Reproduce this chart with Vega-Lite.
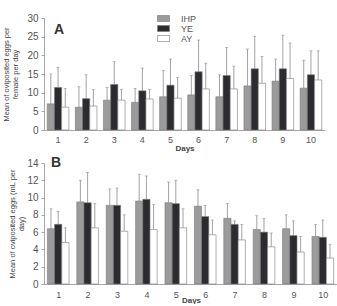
{
  "$schema": "https://vega.github.io/schema/vega-lite/v6.json",
  "padding": {"top": 13, "left": 2, "right": 0, "bottom": 0},
  "spacing": 4,
  "config": {
    "font": "Liberation Sans",
    "view": {"stroke": null},
    "axis": {
      "domainColor": "#a8a8a8", "tickColor": "#a8a8a8", "grid": false,
      "labelColor": "#555", "titleColor": "#444", "labelFont": "Liberation Sans", "titleFont": "Liberation Sans"
    },
    "axisY": {"labelOverlap": false},
    "legend": {"labelFont": "Liberation Sans"},
    "title": {"font": "Liberation Sans", "fontSize": 14, "fontWeight": "bold", "color": "#333", "anchor": "start", "frame": "group"}
  },
  "datasets": {
    "eggsA": [
      {"day": "1", "group": "IHP", "mean": 7.0, "upper": 15.0},
      {"day": "1", "group": "YE", "mean": 11.4, "upper": 16.8},
      {"day": "1", "group": "AY", "mean": 6.1, "upper": 11.1},
      {"day": "2", "group": "IHP", "mean": 6.1, "upper": 11.6},
      {"day": "2", "group": "YE", "mean": 8.4, "upper": 14.8},
      {"day": "2", "group": "AY", "mean": 6.4, "upper": 10.8},
      {"day": "3", "group": "IHP", "mean": 8.0, "upper": 11.4},
      {"day": "3", "group": "YE", "mean": 12.2, "upper": 18.3},
      {"day": "3", "group": "AY", "mean": 8.0, "upper": 10.9},
      {"day": "4", "group": "IHP", "mean": 7.4, "upper": 11.1},
      {"day": "4", "group": "YE", "mean": 10.5, "upper": 16.6},
      {"day": "4", "group": "AY", "mean": 8.3, "upper": 10.9},
      {"day": "5", "group": "IHP", "mean": 8.9, "upper": 15.9},
      {"day": "5", "group": "YE", "mean": 12.0, "upper": 19.0},
      {"day": "5", "group": "AY", "mean": 8.5, "upper": 14.1},
      {"day": "6", "group": "IHP", "mean": 9.4, "upper": 14.6},
      {"day": "6", "group": "YE", "mean": 15.6, "upper": 24.1},
      {"day": "6", "group": "AY", "mean": 11.0, "upper": 17.9},
      {"day": "7", "group": "IHP", "mean": 8.9, "upper": 14.8},
      {"day": "7", "group": "YE", "mean": 14.6, "upper": 22.1},
      {"day": "7", "group": "AY", "mean": 11.0, "upper": 17.1},
      {"day": "8", "group": "IHP", "mean": 11.8, "upper": 21.7},
      {"day": "8", "group": "YE", "mean": 16.4, "upper": 25.1},
      {"day": "8", "group": "AY", "mean": 12.5, "upper": 19.7},
      {"day": "9", "group": "IHP", "mean": 13.1, "upper": 19.0},
      {"day": "9", "group": "YE", "mean": 16.4, "upper": 25.4},
      {"day": "9", "group": "AY", "mean": 13.8, "upper": 23.3},
      {"day": "10", "group": "IHP", "mean": 11.2, "upper": 18.7},
      {"day": "10", "group": "YE", "mean": 14.8, "upper": 21.2},
      {"day": "10", "group": "AY", "mean": 13.4, "upper": 21.2}
    ],
    "eggsB": [
      {"day": "1", "group": "IHP", "mean": 6.4, "upper": 8.7},
      {"day": "1", "group": "YE", "mean": 6.9, "upper": 8.4},
      {"day": "1", "group": "AY", "mean": 4.8, "upper": 6.5},
      {"day": "2", "group": "IHP", "mean": 9.5, "upper": 12.0},
      {"day": "2", "group": "YE", "mean": 9.4, "upper": 12.9},
      {"day": "2", "group": "AY", "mean": 6.5, "upper": 9.3},
      {"day": "3", "group": "IHP", "mean": 9.1, "upper": 11.0},
      {"day": "3", "group": "YE", "mean": 9.1, "upper": 11.1},
      {"day": "3", "group": "AY", "mean": 6.1, "upper": 8.0},
      {"day": "4", "group": "IHP", "mean": 9.6, "upper": 12.7},
      {"day": "4", "group": "YE", "mean": 9.8, "upper": 12.5},
      {"day": "4", "group": "AY", "mean": 6.3, "upper": 9.2},
      {"day": "5", "group": "IHP", "mean": 9.4, "upper": 11.8},
      {"day": "5", "group": "YE", "mean": 9.3, "upper": 12.0},
      {"day": "5", "group": "AY", "mean": 6.5, "upper": 8.7},
      {"day": "6", "group": "IHP", "mean": 9.0, "upper": 10.9},
      {"day": "6", "group": "YE", "mean": 7.8, "upper": 9.1},
      {"day": "6", "group": "AY", "mean": 5.7, "upper": 7.4},
      {"day": "7", "group": "IHP", "mean": 7.6, "upper": 9.3},
      {"day": "7", "group": "YE", "mean": 6.9, "upper": 7.3},
      {"day": "7", "group": "AY", "mean": 5.1, "upper": 6.9},
      {"day": "8", "group": "IHP", "mean": 6.3, "upper": 7.9},
      {"day": "8", "group": "YE", "mean": 6.0, "upper": 7.6},
      {"day": "8", "group": "AY", "mean": 4.3, "upper": 5.9},
      {"day": "9", "group": "IHP", "mean": 6.4, "upper": 8.0},
      {"day": "9", "group": "YE", "mean": 5.6, "upper": 7.3},
      {"day": "9", "group": "AY", "mean": 3.7, "upper": 5.5},
      {"day": "10", "group": "IHP", "mean": 5.5, "upper": 6.9},
      {"day": "10", "group": "YE", "mean": 5.4, "upper": 7.4},
      {"day": "10", "group": "AY", "mean": 3.0, "upper": 4.6}
    ]
  },
  "vconcat": [
    {
      "width": 281,
      "height": 112,
      "title": {"text": "A", "offset": -24, "dx": 10},
      "data": {"name": "eggsA"},
      "encoding": {
        "x": {"field": "day", "type": "ordinal", "sort": null,
              "scale": {"paddingInner": 0.23, "paddingOuter": 0.115},
              "axis": {"title": "Days", "labelAngle": 0, "ticks": false, "labelFontSize": 9, "labelPadding": 5,
                       "titleFontSize": 8, "titleFontWeight": "bold", "titlePadding": 0}},
        "xOffset": {"field": "group", "type": "nominal", "sort": ["IHP", "YE", "AY"], "scale": {"paddingInner": 0}},
        "y": {"field": "mean", "type": "quantitative",
              "scale": {"domain": [0, 30], "nice": false},
              "axis": {"values": [0, 5, 10, 15, 20, 25, 30], "tickSize": 3, "labelFontSize": 10, "labelPadding": 3,
                       "labelOverlap": false, "labelFlush": false,
                       "title": ["Mean of oviposited eggs per", "female per day"],
                       "titleFontSize": 7.5, "titleFontWeight": "normal", "titlePadding": 7}}
      },
      "layer": [
        {
          "mark": {"type": "rule", "color": "#8a8a8a", "strokeWidth": 0.8},
          "encoding": {"y2": {"field": "upper"}}
        },
        {
          "mark": {"type": "tick", "color": "#8a8a8a", "thickness": 0.8, "size": 3, "orient": "horizontal"},
          "encoding": {"y": {"field": "upper", "type": "quantitative"}}
        },
        {
          "mark": {"type": "bar", "stroke": "#7a7a7a", "strokeWidth": 0.6},
          "encoding": {
            "fill": {"field": "group", "type": "nominal",
                     "scale": {"domain": ["IHP", "YE", "AY"], "range": ["#9b9b9b", "#2b2b30", "#ffffff"]},
                     "legend": {"title": null, "orient": "none", "legendX": 115, "legendY": -4,
                                "symbolType": "M-1.5,-0.75H1.5V0.75H-1.5Z", "symbolSize": 64,
                                "symbolStrokeColor": "#777", "symbolStrokeWidth": 0.6,
                                "labelFontSize": 9, "labelColor": "#555", "labelOffset": 13,
                                "rowPadding": -3, "padding": 0}}
          }
        }
      ]
    },
    {
      "width": 294,
      "height": 121,
      "title": {"text": "B", "offset": -12, "dx": 7},
      "data": {"name": "eggsB"},
      "encoding": {
        "x": {"field": "day", "type": "ordinal", "sort": null,
              "scale": {"paddingInner": 0.23, "paddingOuter": 0.115},
              "axis": {"title": "Days", "labelAngle": 0, "ticks": false, "labelFontSize": 9, "labelPadding": 6,
                       "titleFontSize": 8, "titleFontWeight": "bold", "titlePadding": -3}},
        "xOffset": {"field": "group", "type": "nominal", "sort": ["IHP", "YE", "AY"], "scale": {"paddingInner": 0}},
        "y": {"field": "mean", "type": "quantitative",
              "scale": {"domain": [0, 14], "nice": false},
              "axis": {"values": [0, 2, 4, 6, 8, 10, 12, 14], "tickSize": 3, "labelFontSize": 10, "labelPadding": 3,
                       "labelOverlap": false, "labelFlush": false,
                       "title": ["Mean of oviposited eggs (mL per", "day)"],
                       "titleFontSize": 7.5, "titleFontWeight": "normal", "titlePadding": 1}}
      },
      "layer": [
        {
          "mark": {"type": "rule", "color": "#8a8a8a", "strokeWidth": 0.8},
          "encoding": {"y2": {"field": "upper"}}
        },
        {
          "mark": {"type": "tick", "color": "#8a8a8a", "thickness": 0.8, "size": 3, "orient": "horizontal"},
          "encoding": {"y": {"field": "upper", "type": "quantitative"}}
        },
        {
          "mark": {"type": "bar", "stroke": "#7a7a7a", "strokeWidth": 0.6},
          "encoding": {"fill": {"field": "group", "type": "nominal", "legend": null}}
        }
      ]
    }
  ]
}
